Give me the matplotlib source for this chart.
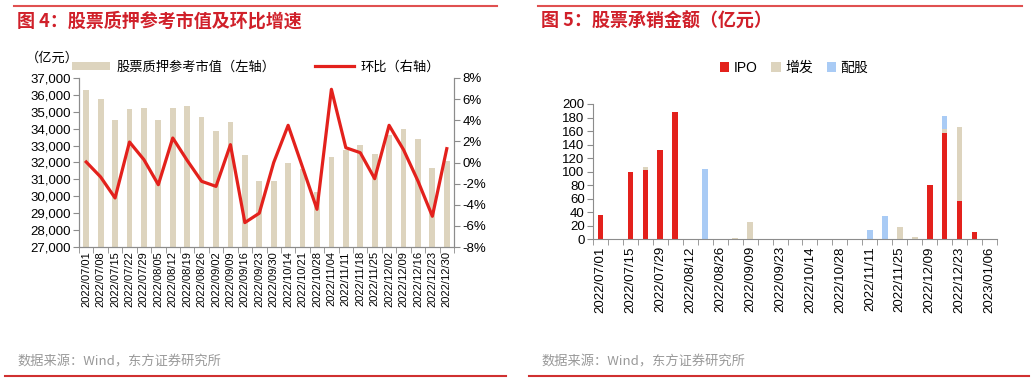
import matplotlib
matplotlib.use('Agg')
from matplotlib import pyplot as plt
from matplotlib.patches import Patch
from matplotlib.lines import Line2D
import numpy as np

plt.rcParams['font.family'] = ['Liberation Sans', 'Noto Sans CJK SC', 'DejaVu Sans']
plt.rcParams['axes.unicode_minus'] = False

# 图4 数据
dates4 = ['2022/07/01', '2022/07/08', '2022/07/15', '2022/07/22', '2022/07/29', '2022/08/05',
          '2022/08/12', '2022/08/19', '2022/08/26', '2022/09/02', '2022/09/09', '2022/09/16',
          '2022/09/23', '2022/09/30', '2022/10/14', '2022/10/21', '2022/10/28', '2022/11/04',
          '2022/11/11', '2022/11/18', '2022/11/25', '2022/12/02', '2022/12/09', '2022/12/16',
          '2022/12/23', '2022/12/30']
pledge_value = [36270, 35760, 34530, 35190, 35250, 34500, 35250, 35360, 34710, 33890, 34420, 32460,
                30890, 30890, 31970, 31640, 30250, 32330, 32720, 33010, 32500, 33610, 34000, 33370,
                31680, 32070]
mom_pct = [0.05, -1.37, -3.36, 1.94, 0.27, -2.1, 2.32, 0.2, -1.78, -2.26, 1.69, -5.69,
           -4.8, 0.0, 3.52, -0.45, -4.43, 6.93, 1.4, 0.93, -1.53, 3.52, 1.21, -1.75,
           -5.09, 1.31]

# 图5 数据
dates5 = ['2022/07/01', '2022/07/08', '2022/07/15', '2022/07/22', '2022/07/29', '2022/08/05',
          '2022/08/12', '2022/08/19', '2022/08/26', '2022/09/02', '2022/09/09', '2022/09/16',
          '2022/09/23', '2022/09/30', '2022/10/14', '2022/10/21', '2022/10/28', '2022/11/04',
          '2022/11/11', '2022/11/18', '2022/11/25', '2022/12/02', '2022/12/09', '2022/12/16',
          '2022/12/23', '2022/12/30', '2023/01/06']
ipo = [36, 0, 100, 103, 131.5, 188, 0, 0, 0, 0, 0, 0, 0, 0, 0, 0, 0, 0,
       0, 0, 0, 0, 80, 157.5, 57, 11, 0]
zengfa = [0, 0, 0, 3.5, 0, 0, 0, 0, 0, 2, 26, 0, 0, 0, 0, 0, 0, 0,
          0, 0, 17.5, 4, 0, 5.5, 109, 0, 0]
peigu = [0, 0, 0, 0, 0, 0, 0, 104.5, 0, 0, 0, 0, 0, 0, 0, 0, 0, 0,
         14.3, 34, 0, 0, 0, 19, 0, 0, 0]

RED = '#E3211C'
TAN = '#DDD4BE'
BLUE = '#A9CBF5'
TITLE_RED = '#D0202A'
GRAY = '#8C8C8C'
CJK = ['Noto Sans CJK SC', 'DejaVu Sans']

fig = plt.figure(figsize=(10.36, 3.79), dpi=100)
W, H = 1036.0, 379.0


def fx(px):
    return px / W


def fy(py):
    return 1 - py / H


# 标题、分隔线、来源
for x0, x1 in [(14, 497), (538, 1022)]:
    fig.add_artist(Line2D([fx(x0), fx(x1)], [fy(6), fy(6)], color='#E05050', lw=1.5))
for x0, x1 in [(5, 506), (529, 1029)]:
    fig.add_artist(Line2D([fx(x0), fx(x1)], [fy(376), fy(376)], color='#D03030', lw=1.5))
fig.text(fx(17), fy(21), '图 4：股票质押参考市值及环比增速', color=TITLE_RED, fontsize=13,
         fontweight='bold', va='center', family=CJK)
fig.text(fx(541), fy(21), '图 5：股票承销金额（亿元）', color=TITLE_RED, fontsize=13,
         fontweight='bold', va='center', family=CJK)
for xs in [17, 541]:
    fig.text(fx(xs), fy(362), '数据来源：Wind，东方证券研究所', color='#999999', fontsize=9.5,
             va='center', family=CJK)

# ---------- 图4 ----------
ax1 = fig.add_axes([fx(79), fy(247), fx(454 - 79), (247 - 78) / H])
x4 = np.arange(len(dates4))
ax1.bar(x4, pledge_value, width=0.4, color=TAN, zorder=1)
ax1.set_ylim(27000, 37000)
ax1.set_yticks(np.arange(27000, 37001, 1000))
ax1.set_yticklabels([f'{v:,}' for v in range(27000, 37001, 1000)], fontsize=9.5)
ax1.set_xlim(-0.5, len(dates4) - 0.5)
ax1.set_xticks(x4)
ax1.set_xticklabels(dates4, rotation=90, fontsize=8)
ax1.set_xticks(np.arange(-0.5, len(dates4), 1), minor=True)
ax1.tick_params(axis='x', which='major', length=0, pad=3)
ax1.tick_params(axis='x', which='minor', length=4, color=GRAY, direction='out')
ax1.tick_params(axis='y', length=4, color=GRAY, direction='out', pad=2)
ax1.spines['top'].set_visible(False)
for s in ['left', 'bottom', 'right']:
    ax1.spines[s].set_color(GRAY)

ax2 = ax1.twinx()
ax2.plot(x4, mom_pct, color=RED, lw=2.3, zorder=3)
ax2.set_ylim(-8, 8)
ax2.set_yticks(np.arange(-8, 9, 2))
ax2.set_yticklabels([f'{v}%' for v in range(-8, 9, 2)], fontsize=9.5)
ax2.tick_params(axis='y', length=4, color=GRAY, direction='out', pad=2)
ax2.spines['top'].set_visible(False)
for s in ['left', 'bottom', 'right']:
    ax2.spines[s].set_color(GRAY)

fig.text(fx(26), fy(58), '（亿元）', fontsize=9.5, va='center', family=CJK)
h4 = [Patch(facecolor=TAN, edgecolor='none'), Line2D([], [], color=RED, lw=2.3)]
fig.legend(h4, ['股票质押参考市值（左轴）', '环比（右轴）'], ncol=2, frameon=False,
           loc='center left', bbox_to_anchor=(fx(60), fy(67)),
           handlelength=2.9, handleheight=0.5, handletextpad=0.5, columnspacing=3.0,
           prop={'family': CJK, 'size': 9.5})

# ---------- 图5 ----------
ax3 = fig.add_axes([fx(593), fy(239.3), fx(997 - 593), (239.3 - 104) / H])
x5 = np.arange(len(dates5))
bot2 = np.array(ipo)
bot3 = bot2 + np.array(zengfa)
ax3.bar(x5, ipo, width=0.38, color=RED, label='IPO')
ax3.bar(x5, zengfa, width=0.38, bottom=bot2, color=TAN, label='增发')
ax3.bar(x5, peigu, width=0.38, bottom=bot3, color=BLUE, label='配股')
ax3.set_ylim(0, 200)
ax3.set_yticks(np.arange(0, 201, 20))
ax3.tick_params(axis='y', labelsize=9.5, length=4, color=GRAY, direction='out', pad=2)
ax3.set_xlim(-0.5, len(dates5) - 0.5)
ax3.set_xticks(x5[::2])
ax3.set_xticklabels(dates5[::2], rotation=90, fontsize=9.5)
ax3.set_xticks(np.arange(-0.5, len(dates5), 1), minor=True)
ax3.tick_params(axis='x', which='major', length=0, pad=5)
ax3.tick_params(axis='x', which='minor', length=4, color=GRAY, direction='out')
ax3.spines['top'].set_visible(False)
ax3.spines['right'].set_visible(False)
for s in ['left', 'bottom']:
    ax3.spines[s].set_color(GRAY)
fig.legend(*ax3.get_legend_handles_labels(), ncol=3, frameon=False,
           loc='center left', bbox_to_anchor=(fx(707), fy(68)),
           handlelength=0.7, handleheight=0.7, handletextpad=0.3, columnspacing=1.0,
           prop={'family': ['Liberation Sans', 'Noto Sans CJK SC'], 'size': 10})

fig.savefig('out.png', dpi=100)
